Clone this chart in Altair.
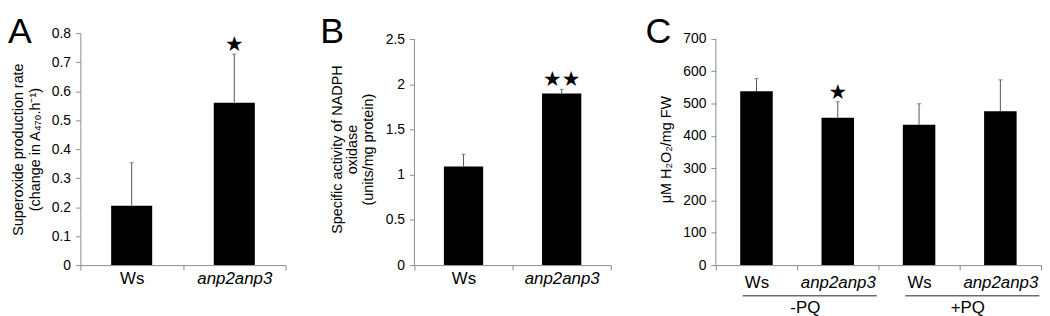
import altair as alt
import pandas as pd

FONT = "Liberation Sans"
STAR_FONT = "DejaVu Sans"
GRAY = "#8c8c8c"
ERR = "#555555"
H = 234
TOP = 24  # room kept above each plot area

# ---------------- data ----------------
a_keys = ["Ws", "anp2anp3"]
a_labels = ["Ws", "anp2anp3"]
a_mean = [0.205, 0.560]
a_upper = [0.353, 0.728]
a_star = ["", "★"]
a_ticks = [0, 0.1, 0.2, 0.3, 0.4, 0.5, 0.6, 0.7, 0.8]
a_title = ["Superoxide production rate", "(change in A₄₇₀.h⁻¹)"]

b_keys = ["Ws", "anp2anp3"]
b_labels = ["Ws", "anp2anp3"]
b_mean = [1.09, 1.90]
b_upper = [1.226, 1.945]
b_star = ["", "★★"]
b_ticks = [0, 0.5, 1, 1.5, 2, 2.5]
b_title = ["Specific activity of NADPH", "oxidase", "(units/mg protein)"]

c_keys = ["c1", "c2", "c3", "c4"]
c_labels = ["Ws", "anp2anp3", "Ws", "anp2anp3"]
c_mean = [538, 456, 434, 476]
c_upper = [577, 505, 499, 573]
c_star = ["", "★", "", ""]
c_ticks = [0, 100, 200, 300, 400, 500, 600, 700]
c_title = "μM H₂O₂/mg FW"
c_groups = ["-PQ", "+PQ"]
c_group_first = ["c1", "c3"]
c_group_last = ["c2", "c4"]


def panel(keys, labels, mean, upper, star, ticks, ymax, ytitle, fmt,
          letter, letter_x, extent, title_pad, line_h, label_pad, draw_domain):
    df = pd.DataFrame({"key": keys, "label": labels, "mean": mean,
                       "upper": upper, "star": star})
    mapping = "{" + ",".join(f"'{k}':'{l}'" for k, l in zip(keys, labels)) + "}"
    italic_keys = [k for k, l in zip(keys, labels) if l != "Ws"]
    test = " || ".join(f"datum.value == '{k}'" for k in italic_keys)
    x_axis = alt.Axis(
        title=None, labelExpr=f"{mapping}[datum.value]", labelAngle=0,
        labelFont=FONT, labelFontSize=17, labelColor="black",
        labelPadding=label_pad,
        labelFontStyle={"condition": {"test": test, "value": "italic"},
                        "value": "normal"},
        tickBand="extent", tickSize=5, tickColor=GRAY, domainColor=GRAY)
    x_scale = alt.Scale(domain=keys, paddingInner=0, paddingOuter=0)
    y_scale = alt.Scale(domain=[0, ymax], nice=False, zero=True)
    y_axis = alt.Axis(
        values=ticks, format=fmt, title=ytitle, titleFont=FONT,
        titleFontSize=14.5, titleFontWeight="normal", titleColor="black",
        titleLineHeight=line_h, titlePadding=title_pad,
        labelFont=FONT, labelFontSize=14, labelColor="black", labelPadding=5,
        tickSize=5, tickColor=GRAY, domain=draw_domain, domainColor=GRAY,
        grid=False, minExtent=extent, maxExtent=extent)
    base = alt.Chart(df)
    bars = base.mark_bar(color="black", width={"band": 0.4}).encode(
        x=alt.X("key:N", scale=x_scale, axis=x_axis),
        y=alt.Y("mean:Q", scale=y_scale, axis=y_axis))
    err = base.mark_rule(color=ERR, strokeWidth=1).encode(
        x=alt.X("key:N", axis=None), y=alt.Y("mean:Q", axis=None), y2="upper:Q")
    cap = base.mark_tick(color=ERR, size=4, thickness=1).encode(
        x=alt.X("key:N", axis=None), y=alt.Y("upper:Q", axis=None))
    stars = base.mark_text(font=STAR_FONT, fontSize=21, baseline="bottom",
                           dy=1, color="black").encode(
        x=alt.X("key:N", axis=None), y=alt.Y("upper:Q", axis=None),
        text="star:N")
    letter_mark = alt.Chart(pd.DataFrame({"letter": [letter]})).mark_text(
        font=FONT, fontSize=36, align="left", baseline="alphabetic",
        color="black").encode(text="letter:N", x=alt.value(letter_x),
                              y=alt.value(9.5))
    # invisible spacer that keeps TOP pixels of room above the plot area
    spacer = alt.Chart(pd.DataFrame({"s": [0]})).mark_rule(
        strokeOpacity=0).encode(x=alt.value(0), y=alt.value(-TOP), y2=alt.value(0))
    layers = [bars, err, cap, stars, letter_mark, spacer]
    if not draw_domain:
        yline = alt.Chart(pd.DataFrame({"lo": [ticks[0]], "hi": [ticks[-1]]})).mark_rule(
            color=GRAY, strokeWidth=1).encode(
            x=alt.value(0), y=alt.Y("lo:Q", axis=None), y2="hi:Q")
        layers.append(yline)
    return layers


a_layers = panel(a_keys, a_labels, a_mean, a_upper, a_star, a_ticks, 0.8,
                 a_title, ".1~f", "A", -73, 31, 7.5, 17, 1, True)
b_layers = panel(b_keys, b_labels, b_mean, b_upper, b_star, b_ticks,
                 2.5 * 234 / 227.9, b_title, ".1~f", "B", -95, 30, 9, 16, 1, False)
c_layers = panel(c_keys, c_labels, c_mean, c_upper, c_star, c_ticks,
                 700 * 234 / 228.3, c_title, "d", "C", -71, 35, 8, 15, 5, False)

grp = pd.DataFrame({"group": c_groups, "first": c_group_first, "last": c_group_last})
grp_rule = alt.Chart(grp).mark_rule(color="#222222", strokeWidth=1).encode(
    x=alt.X("first:N", bandPosition=0.33, axis=None),
    x2=alt.X2("last:N", bandPosition=0.98),
    y=alt.value(H + 31))
grp_text = alt.Chart(grp).mark_text(font=FONT, fontSize=17, baseline="alphabetic",
                                    color="black").encode(
    x=alt.X("last:N", bandPosition=0.1, axis=None),
    y=alt.value(H + 48), text="group:N")
c_layers += [grp_rule, grp_text]


def layered(layers, w):
    return alt.layer(*layers).properties(width=w, height=H).resolve_axis(
        x="independent", y="independent")


A = layered(a_layers, 207)
B = layered(b_layers, 198)
C = layered(c_layers, 328)

chart = alt.hconcat(A, B, C, spacing=34).properties(padding=0).configure_view(
    stroke=None)

chart.save("out.html", embed_options={"renderer": "svg", "actions": False})
